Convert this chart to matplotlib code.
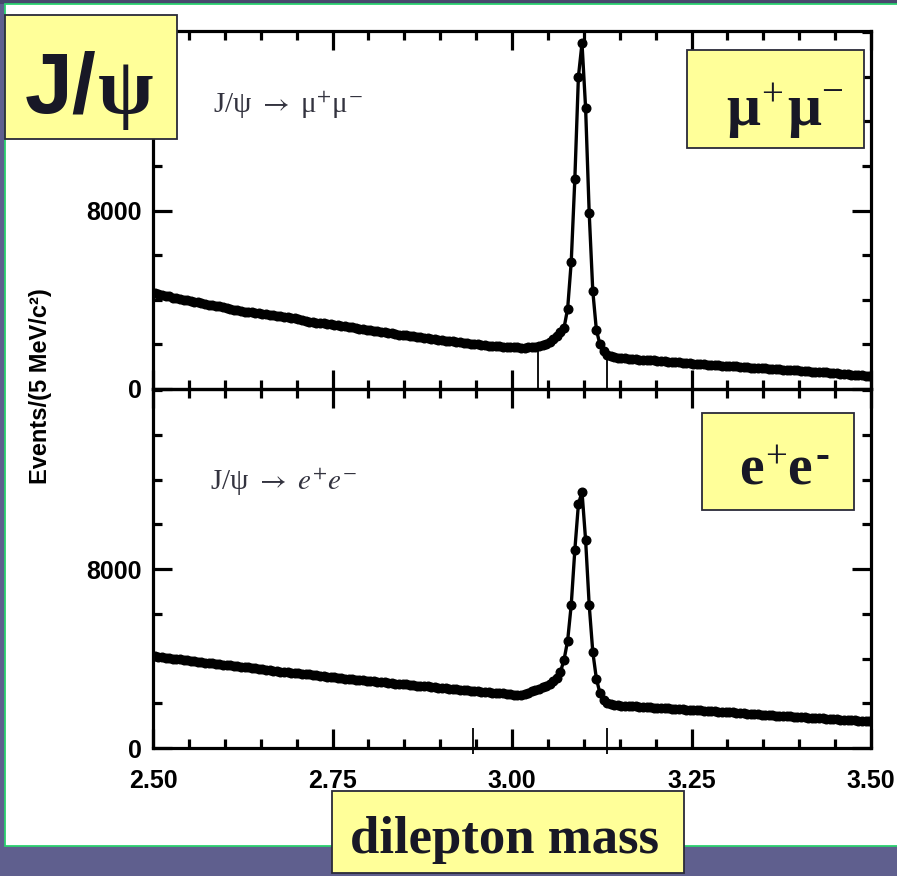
import numpy as np
import matplotlib
matplotlib.use("Agg")
import matplotlib.pyplot as plt
from matplotlib.patches import Rectangle
from matplotlib.ticker import FixedLocator, MultipleLocator

plt.rcParams["mathtext.fontset"] = "stix"

# ---------------------------------------------------------------- data
# dilepton invariant mass, 5 MeV/c^2 bins from 2.50 to 3.50 GeV/c^2
mass_min, mass_max, bin_width = 2.50, 3.50, 0.005

mumu_counts = [
    4300, 4260, 4220, 4180, 4150, 4100, 4060, 4030, 4000, 3970, 3950, 3920, 3880, 3840, 3800, 3770, 3750, 3720, 3700, 3670,
    3620, 3580, 3550, 3520, 3500, 3470, 3450, 3430, 3420, 3400, 3380, 3360, 3330, 3300, 3280, 3260, 3240, 3220, 3200, 3170,
    3140, 3100, 3060, 3020, 2990, 2970, 2960, 2940, 2920, 2900, 2880, 2860, 2830, 2810, 2790, 2760, 2740, 2710, 2690, 2660,
    2630, 2610, 2590, 2570, 2550, 2520, 2500, 2470, 2440, 2420, 2400, 2380, 2360, 2330, 2310, 2290, 2270, 2250, 2230, 2210,
    2190, 2170, 2150, 2130, 2110, 2090, 2070, 2050, 2030, 2010, 2000, 1980, 1960, 1950, 1930, 1920, 1910, 1900, 1890, 1880,
    1870, 1870, 1860, 1860, 1870, 1880, 1900, 1930, 1970, 2020, 2100, 2220, 2380, 2550, 2750, 3600, 5700, 9400, 14000, 15500,
    12600, 7900, 4400, 2650, 2000, 1700, 1520, 1460, 1430, 1410, 1390, 1370, 1360, 1340, 1330, 1320, 1310, 1300, 1290, 1280,
    1270, 1260, 1240, 1230, 1220, 1200, 1190, 1180, 1160, 1150, 1140, 1130, 1110, 1100, 1090, 1080, 1070, 1060, 1050, 1040,
    1030, 1020, 1010, 1000, 990, 980, 960, 950, 940, 930, 920, 910, 900, 890, 880, 870, 860, 850, 840, 830,
    820, 810, 800, 780, 770, 760, 750, 740, 720, 710, 700, 690, 680, 660, 650, 640, 630, 620, 600, 590,
]

ee_counts = [
    4100, 4070, 4050, 4030, 4020, 4000, 3980, 3960, 3950, 3930, 3900, 3880, 3860, 3840, 3820, 3800, 3780, 3770, 3750, 3730,
    3710, 3690, 3680, 3660, 3640, 3620, 3600, 3580, 3560, 3540, 3520, 3500, 3480, 3460, 3440, 3420, 3410, 3390, 3370, 3360,
    3340, 3320, 3300, 3290, 3270, 3250, 3230, 3210, 3190, 3170, 3160, 3140, 3120, 3100, 3080, 3070, 3050, 3040, 3020, 3010,
    2990, 2980, 2960, 2950, 2930, 2920, 2900, 2880, 2870, 2850, 2840, 2820, 2810, 2790, 2780, 2760, 2750, 2730, 2720, 2700,
    2690, 2670, 2660, 2640, 2620, 2610, 2590, 2580, 2560, 2550, 2530, 2520, 2500, 2490, 2480, 2460, 2450, 2440, 2430, 2420,
    2380, 2370, 2380, 2420, 2480, 2540, 2600, 2660, 2720, 2790, 2870, 2990, 3150, 3400, 3950, 4800, 6400, 8850, 10900, 11450,
    9300, 6400, 4300, 3100, 2450, 2150, 2020, 1960, 1930, 1910, 1900, 1890, 1880, 1870, 1860, 1850, 1840, 1830, 1820, 1810,
    1800, 1790, 1780, 1770, 1760, 1750, 1740, 1730, 1720, 1710, 1700, 1690, 1680, 1670, 1660, 1650, 1640, 1630, 1620, 1610,
    1600, 1590, 1580, 1560, 1550, 1540, 1530, 1520, 1500, 1490, 1480, 1470, 1460, 1450, 1440, 1430, 1420, 1410, 1400, 1390,
    1380, 1370, 1360, 1350, 1340, 1330, 1320, 1310, 1300, 1290, 1280, 1270, 1260, 1250, 1240, 1230, 1220, 1210, 1200, 1190,
]

# signal mass windows
mumu_window = [3.036, 3.132]
ee_window = [2.946, 3.132]

x_ticks = [2.50, 2.75, 3.00, 3.25, 3.50]
x_ticklabels = ["2.50", "2.75", "3.00", "3.25", "3.50"]
y_ticks = [0, 8000]
y_ticklabels = ["0", "8000"]
y_max = 16050

# ---------------------------------------------------------------- figure
W, H = 897, 876
fig = plt.figure(figsize=(W / 100, H / 100), dpi=100)
fig.patch.set_facecolor("#5f5f8e")


def fx(px):
    return px / W


def fy(py):
    return 1 - py / H


def fig_rect(x0, y0, x1, y1, **kw):
    r = Rectangle((fx(x0), fy(y1)), fx(x1) - fx(x0), fy(y0) - fy(y1),
                  transform=fig.transFigure, **kw)
    fig.add_artist(r)
    return r


# slide background: dark top strip and white content panel with green rule
fig_rect(0, 0, W, 4, facecolor="#48486c", edgecolor="none", zorder=-6)
fig_rect(5, 4, W + 10, 846, facecolor="white", edgecolor="#2bd16f", lw=1.3, zorder=-5)

sans = "Liberation Sans"
serif = ["Liberation Serif", "DejaVu Serif"]

mass = mass_min + bin_width * (np.arange(len(mumu_counts)) + 0.5)

ax1 = fig.add_axes([fx(153), fy(389), fx(871) - fx(153), fy(31) - fy(389)])
ax2 = fig.add_axes([fx(153), fy(748), fx(871) - fx(153), fy(389) - fy(748)], sharex=ax1)

for ax, counts in ((ax1, mumu_counts), (ax2, ee_counts)):
    ax.patch.set_alpha(0)
    ax.plot(mass, counts, color="black", lw=2.4, marker="o", ms=6.2,
            mfc="black", mec="black", zorder=3)
    ax.set_xlim(mass_min, mass_max)
    ax.set_ylim(0, y_max)
    for s in ax.spines.values():
        s.set_linewidth(2.3)
    ax.xaxis.set_major_locator(FixedLocator(x_ticks))
    ax.xaxis.set_minor_locator(MultipleLocator(0.05))
    ax.yaxis.set_major_locator(FixedLocator(y_ticks))
    ax.yaxis.set_minor_locator(MultipleLocator(2000))
    ax.tick_params(which="both", direction="in", top=True, right=True, width=2.3)
    ax.tick_params(which="major", length=13.5, pad=8)
    ax.tick_params(which="minor", length=6.5)
    ax.set_yticklabels(y_ticklabels, fontfamily=sans, fontsize=18, fontweight="bold")

ax1.tick_params(labelbottom=False)
ax2.set_xticklabels(x_ticklabels, fontfamily=sans, fontsize=18, fontweight="bold")
ax2.tick_params(axis="x", which="major", pad=15)

# signal window markers
ax1.vlines(mumu_window, 0, np.interp(mumu_window, mass, mumu_counts), color="black", lw=1.3, zorder=2)
ax2.vlines(ee_window, -250, 900, color="black", lw=1.3, zorder=2, clip_on=False)

fig.text(fx(40), fy(386), "Events/(5 MeV/c²)", rotation=90, ha="center", va="center",
         fontfamily=sans, fontsize=17, fontweight="bold")

# channel annotations
fig.text(fx(213), fy(113), r"J/ψ $\rightarrow$ μ$^{+}$μ$^{-}$", fontfamily=serif, fontsize=21,
         color="#33333f", ha="left", va="baseline")
fig.text(fx(210), fy(490), r"J/ψ $\rightarrow$ $e^{+}e^{-}$", fontfamily=serif, fontsize=21,
         color="#33333f", ha="left", va="baseline")

# yellow callout boxes
box_kw = dict(facecolor="#ffff99", edgecolor="#2a2a38", lw=1.3, zorder=20)
ink = "#181826"
fig_rect(5, 15, 177, 139, **box_kw)
fig_rect(687, 50, 864, 148, **box_kw)
fig_rect(702, 413, 854, 510, **box_kw)
fig_rect(332, 791, 684, 873, **box_kw)

tk = dict(ha="left", va="baseline", color=ink, zorder=21)
fig.text(fx(25), fy(112), "J/", fontfamily=sans, fontweight="bold", fontsize=62, **tk)
fig.text(fx(98), fy(113), "ψ", fontfamily=serif, fontweight="bold", fontsize=58, **tk)

fig.text(fx(726), fy(125), "μ", fontfamily=serif, fontweight="bold", fontsize=43, **tk)
fig.text(fx(761), fy(106), "+", fontfamily=serif, fontsize=28, **tk)
fig.text(fx(787), fy(125), "μ", fontfamily=serif, fontweight="bold", fontsize=43, **tk)
fig.text(fx(821), fy(103), "−", fontfamily=serif, fontsize=28, **tk)

fig.text(fx(739), fy(485), "e", fontfamily=serif, fontweight="bold", fontsize=40, **tk)
fig.text(fx(765), fy(468), "+", fontfamily=serif, fontsize=28, **tk)
fig.text(fx(787), fy(485), "e", fontfamily=serif, fontweight="bold", fontsize=40, **tk)
fig.text(fx(815), fy(467), "-", fontfamily=serif, fontweight="bold", fontsize=30, **tk)

fig.text(fx(350), fy(853), "dilepton mass", fontfamily=serif, fontweight="bold", fontsize=38, **tk)

fig.savefig("out.png", dpi=100, facecolor=fig.get_facecolor())
